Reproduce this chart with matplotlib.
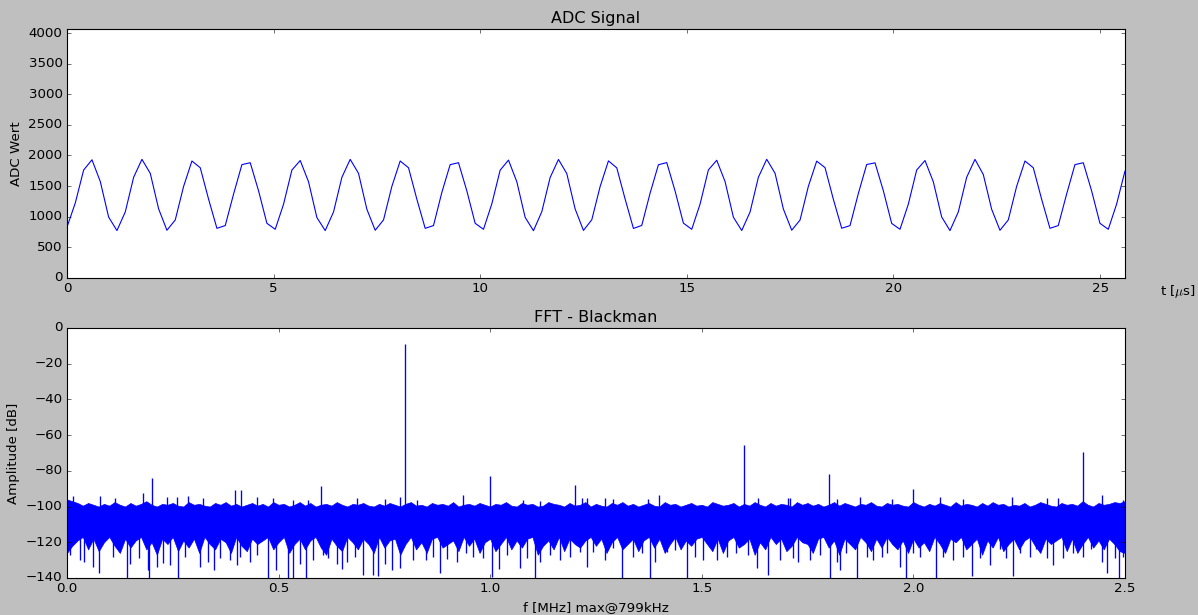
import numpy as np
import matplotlib
matplotlib.use("Agg")
import matplotlib.pyplot as plt

# ---- ADC samples (128 samples) ----
t_end = 25.6  # us
adc_values = [
    830, 1225, 1762, 1930, 1575, 995, 774, 1079, 1643, 1937, 1708, 1130, 779, 948, 1495, 1910, 1800, 1287, 811, 856, 1370, 1851, 1882, 1423, 893,
    795, 1205, 1762, 1918, 1570, 987, 774, 1079, 1643, 1937, 1708, 1123, 779, 948, 1495, 1910, 1800, 1287, 811, 856, 1397, 1851, 1882, 1423, 893,
    795, 1210, 1760, 1925, 1572, 990, 772, 1082, 1640, 1935, 1705, 1128, 777, 950, 1492, 1912, 1798, 1290, 809, 858, 1385, 1849, 1884, 1420, 895,
    795, 1207, 1765, 1922, 1574, 992, 775, 1077, 1645, 1938, 1710, 1126, 780, 946, 1497, 1908, 1802, 1285, 812, 855, 1380, 1853, 1880, 1425, 891,
    795, 1205, 1762, 1918, 1570, 997, 774, 1079, 1643, 1937, 1689, 1123, 779, 948, 1495, 1910, 1800, 1287, 811, 856, 1369, 1851, 1882, 1423, 893,
    795, 1205, 1743,
]

# ---- FFT (Blackman window), dB ----
f_max = 2.5  # MHz
# noise floor band, upper / lower edge every 0.0125 MHz
env_top = [
    -96, -97, -98, -99.5, -98, -99, -100, -98.5, -99.5, -97.5, -99, -100, -98, -99.5, -98.5, -97, -99, -100, -98.5, -99,
    -98, -99.5, -100, -97.5, -99, -98.5, -99.5, -100, -98, -99, -97.5, -99.5, -98.5, -100, -99, -98, -99.5, -98.5, -100, -97.5,
    -99, -98.5, -100, -99, -97.5, -99.5, -98, -100, -99, -98.5, -99.5, -97.5, -99, -100, -98.5, -99, -98, -99.5, -100, -98.5,
    -99.5, -98, -99, -100, -98.5, -97.5, -99.5, -99, -100, -98, -99, -98.5, -99.5, -97.5, -100, -99, -98.5, -99.5, -98, -99,
    -100, -98.5, -99, -97.5, -99.5, -100, -98, -99, -98.5, -100, -99.5, -97.5, -98.5, -99, -100, -98, -99.5, -99, -97.5, -100,
    -98.5, -99.5, -100, -98, -99, -97.5, -99.5, -98.5, -100, -99, -98, -99.5, -100, -97.5, -99, -98.5, -100, -99, -98, -99.5,
    -99, -100, -97.5, -98.5, -99.5, -99, -98, -100, -98.5, -99.5, -97.5, -99, -100, -98, -99.5, -98.5, -99, -100, -97.5, -99,
    -98, -99.5, -98.5, -100, -99, -97.5, -99.5, -98, -99, -100, -98.5, -99, -97.5, -99.5, -100, -98, -99, -98.5, -99.5, -100,
    -97.5, -99, -100, -98.5, -99.5, -98, -99, -100, -97.5, -99.5, -98.5, -99, -100, -98, -99.5, -97.5, -99, -98.5, -100, -99,
    -99.5, -98, -100, -99, -97.5, -98.5, -99.5, -100, -98, -99, -98.5, -99.5, -97, -99, -100, -98, -99, -98.5, -97.5, -98,
    -97,
]
env_bot = [
    -126, -122, -119, -117, -124, -118, -125, -120, -117, -122, -126, -118, -123, -119, -117, -124, -120, -127, -118, -121,
    -117, -125, -119, -123, -118, -126, -117, -121, -124, -118, -120, -126, -117, -122, -125, -118, -121, -119, -117, -124,
    -120, -117, -126, -121, -118, -124, -119, -117, -123, -127, -118, -122, -125, -117, -120, -124, -118, -121, -126, -117,
    -123, -119, -118, -127, -121, -117, -124, -120, -126, -118, -117, -123, -121, -119, -125, -117, -122, -118, -126, -120,
    -118, -125, -121, -117, -124, -119, -123, -118, -117, -127, -122, -119, -124, -117, -125, -118, -121, -123, -119, -117,
    -122, -118, -126, -120, -117, -124, -121, -118, -125, -119, -117, -123, -118, -126, -121, -117, -124, -119, -122, -118,
    -117, -121, -125, -118, -126, -119, -117, -123, -121, -118, -127, -120, -124, -117, -121, -118, -125, -122, -117, -120,
    -121, -126, -118, -117, -123, -119, -127, -118, -121, -124, -117, -120, -125, -118, -123, -117, -121, -124, -119, -126,
    -118, -123, -120, -125, -117, -121, -126, -118, -120, -117, -124, -121, -118, -127, -119, -123, -117, -125, -121, -118,
    -124, -119, -117, -122, -126, -118, -121, -119, -117, -125, -118, -126, -121, -117, -123, -119, -124, -118, -121, -125,
    -126,
]

# spurs / harmonics
spur_f = [0.014, 0.078, 0.18, 0.2, 0.398, 0.412, 0.6, 0.7995, 0.936, 1.0, 1.2, 1.4, 1.6, 1.8, 2.0, 2.4]
spur_db = [-94, -94, -92.5, -84, -90.5, -91, -88.5, -9, -93.5, -83, -88, -93.5, -65.5, -81.8, -90, -69.6]

# small peaks of the noise
tip_f = [0.113, 0.236, 0.259, 0.287, 0.322, 0.448, 0.488, 0.535, 0.570, 0.685, 0.751, 0.787, 0.826,
         1.078, 1.118, 1.216, 1.228, 1.271, 1.291, 1.374, 1.634, 1.704, 1.708, 1.819, 1.875, 1.949,
         2.063, 2.118, 2.232, 2.315, 2.342, 2.445, 2.496]
tip_db = [-95.4, -94.4, -94.8, -94.1, -95.4, -94.8, -95.4, -96.3, -96.3, -95.4, -95.9, -94.4, -96.3,
          -96.3, -96.7, -95.4, -95.4, -95.4, -95.9, -95.9, -95.4, -95.4, -95, -95.9, -94.7, -95.9,
          -94.8, -95.9, -94.7, -95.4, -95.4, -93.5, -96.3]

# deep minima of the noise
dip_f = [0.007, 0.031, 0.040, 0.061, 0.076, 0.109, 0.141, 0.150, 0.171, 0.192, 0.195, 0.212, 0.228,
         0.243, 0.263, 0.279, 0.314, 0.334, 0.347, 0.362, 0.385, 0.401, 0.409, 0.432, 0.448, 0.474,
         0.495, 0.523, 0.535, 0.551, 0.566, 0.582, 0.606, 0.617, 0.637, 0.651, 0.661, 0.681, 0.700,
         0.724, 0.736, 0.751, 0.767, 0.787, 0.818, 0.848, 0.866, 0.881, 0.897, 0.921, 0.944, 0.960,
         0.984, 1.004, 1.021, 1.039, 1.070, 1.086, 1.106, 1.118, 1.141, 1.165, 1.189, 1.212, 1.228,
         1.244, 1.271, 1.291, 1.311, 1.338, 1.358, 1.378, 1.389, 1.417, 1.437, 1.464, 1.484, 1.504,
         1.535, 1.559, 1.582, 1.610, 1.630, 1.657, 1.685, 1.716, 1.728, 1.756, 1.779, 1.803, 1.819,
         1.827, 1.842, 1.866, 1.890, 1.905, 1.925, 1.937, 1.968, 1.982, 2.000, 2.016, 2.053, 2.071,
         2.094, 2.118, 2.138, 2.157, 2.181, 2.205, 2.220, 2.236, 2.252, 2.276, 2.291, 2.315, 2.331,
         2.354, 2.378, 2.402, 2.421, 2.445, 2.458, 2.476, 2.487, 2.496]
dip_db = [-127, -130, -131, -134, -137, -128, -140, -132, -129, -135.5, -140, -134, -131.4,
          -133, -140, -128, -134, -131, -135.5, -129, -130, -133, -128, -131, -127, -140,
          -135.5, -140, -140, -132, -140, -130, -127, -129, -132, -135, -130.8, -128, -138.3,
          -138.3, -139, -132, -135.5, -134.6, -130, -130, -128, -137.4, -129.5, -130.8, -126.2, -128,
          -129, -139.2, -135, -127, -134.6, -129, -140, -130.8, -127, -130, -128, -125.2, -133.6,
          -125.2, -130, -123.4, -140, -128, -126.2, -140, -130.8, -125.2, -124.3, -140, -128, -130,
          -130, -128, -126.2, -127.1, -134.6, -138.3, -130, -129, -130.8, -130, -127.1, -140, -130.8,
          -135.5, -126.2, -140, -128, -130, -128, -126, -134, -140, -126, -128, -140, -128,
          -130, -128, -139, -129, -133, -124, -129, -139, -126, -128, -124, -129, -133,
          -129, -126, -128, -124, -131, -137, -129, -140, -128]

plt.style.use("classic")
fig = plt.figure(figsize=(14.975, 7.6875), dpi=80, facecolor="0.75")
ax1 = fig.add_axes([0.0559, 0.548, 0.8831, 0.4048])
ax2 = fig.add_axes([0.0559, 0.0602, 0.8831, 0.4065])

t = np.linspace(0, t_end, len(adc_values))
ax1.plot(t, adc_values, color="b", lw=1.0)
ax1.set_xlim(0, t_end)
ax1.set_ylim(0, 4065)
ax1.set_yticks(np.arange(0, 4001, 500))
ax1.set_title("ADC Signal")
ax1.set_ylabel("ADC Wert")
ax1.set_xlabel(r"t [$\mu$s]")
ax1.xaxis.set_label_coords(1.05, -0.02)

f_env = np.linspace(0, f_max, len(env_top))
ax2.fill_between(f_env, env_bot, env_top, color="b", lw=0.6)
ax2.vlines(dip_f, -115, dip_db, color="b", lw=1.2)
ax2.vlines(tip_f, -105, tip_db, color="b", lw=1.2)
ax2.vlines(spur_f, -105, spur_db, color="b", lw=1.2)
ax2.set_xlim(0, f_max)
ax2.set_ylim(-140, 0)
ax2.set_title("FFT - Blackman")
ax2.set_xlabel("f [MHz] max@799kHz")
ax2.set_ylabel("Amplitude [dB]")

fig.savefig("out.png", dpi=80, facecolor=fig.get_facecolor())
